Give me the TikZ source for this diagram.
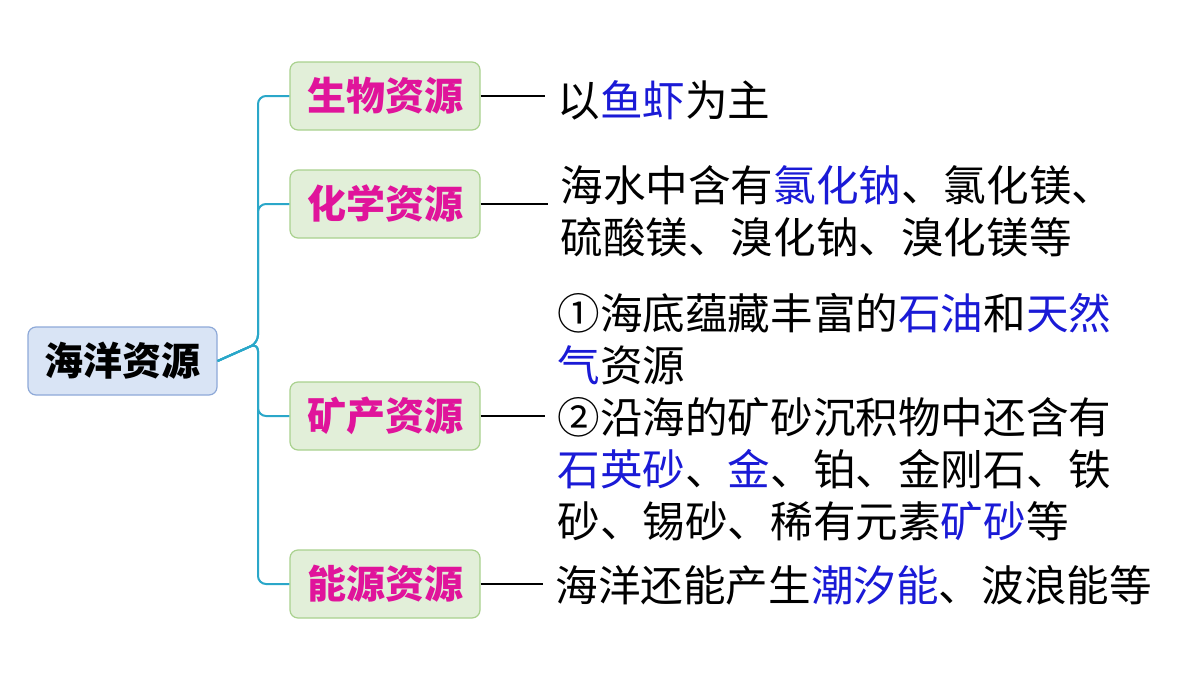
\documentclass[tikz,border=0pt]{standalone}
\usepackage{fontspec}
\setmainfont{Noto Sans CJK SC}
\newfontfamily\cjk{Noto Sans CJK SC}
\definecolor{bl}{HTML}{1A1AD6}
\definecolor{mg}{HTML}{E0149B}
\definecolor{cy}{HTML}{2AA7C9}
\definecolor{rootf}{HTML}{D9E4F5}
\definecolor{roote}{HTML}{8EA9D8}
\definecolor{grf}{HTML}{E2EFD9}
\definecolor{gre}{HTML}{A9D18E}
\begin{document}
\begin{tikzpicture}[x=0.5pt,y=-0.5pt,
 rootbox/.style={draw=roote,fill=rootf,rounded corners=4pt,line width=0.6pt,minimum width=94.5pt,minimum height=34pt,inner sep=0pt,font=\fontsize{19.5}{22}\selectfont\bfseries},
 branch/.style={draw=gre,fill=grf,rounded corners=4pt,line width=0.6pt,minimum width=95pt,minimum height=34pt,inner sep=0pt,text=mg,font=\fontsize{19.5}{22}\selectfont\bfseries},
 desc/.style={anchor=west,align=left,inner sep=0pt,font=\fontsize{21.3}{26}\selectfont},
 trunk/.style={draw=cy,line width=1pt,rounded corners=4pt},
 lk/.style={draw=black,line width=0.7pt}]
\useasboundingbox (0,0) rectangle (1200,675);
\node[rootbox] (root) at (122.5,361) {海洋资源};
\node[branch] (b1) at (385,96) {生物资源};
\node[branch] (b2) at (385,204) {化学资源};
\node[branch] (b3) at (385,416) {矿产资源};
\node[branch] (b4) at (385,584) {能源资源};
\coordinate (t) at (258,343);
\foreach \b in {b1,b2,b3,b4} \draw[trunk] (root.east) -- (t) |- (\b.west);
\node[desc] (d1) at (557,100) {以\textcolor{bl}{鱼虾}为主};
\node[desc] (d2) at (560,211) {海水中含有\textcolor{bl}{氯化钠}、氯化镁、\\硫酸镁、溴化钠、溴化镁等};
\node[desc] (d3) at (557,417) {①海底蕴藏丰富的\textcolor{bl}{石油}和\textcolor{bl}{天然}\\\textcolor{bl}{气}资源\\②沿海的矿砂沉积物中还含有\\\textcolor{bl}{石英砂}、\textcolor{bl}{金}、铂、金刚石、铁\\砂、锡砂、稀有元素\textcolor{bl}{矿砂}等};
\node[desc] (d4) at (555,585) {海洋还能产生\textcolor{bl}{潮汐能}、波浪能等};
\draw[lk] (b1.east) -- (545,96);
\draw[lk] (b2.east) -- (548,204);
\draw[lk] (b3.east) -- (545,416);
\draw[lk] (b4.east) -- (543,584);
\end{tikzpicture}
\end{document}
